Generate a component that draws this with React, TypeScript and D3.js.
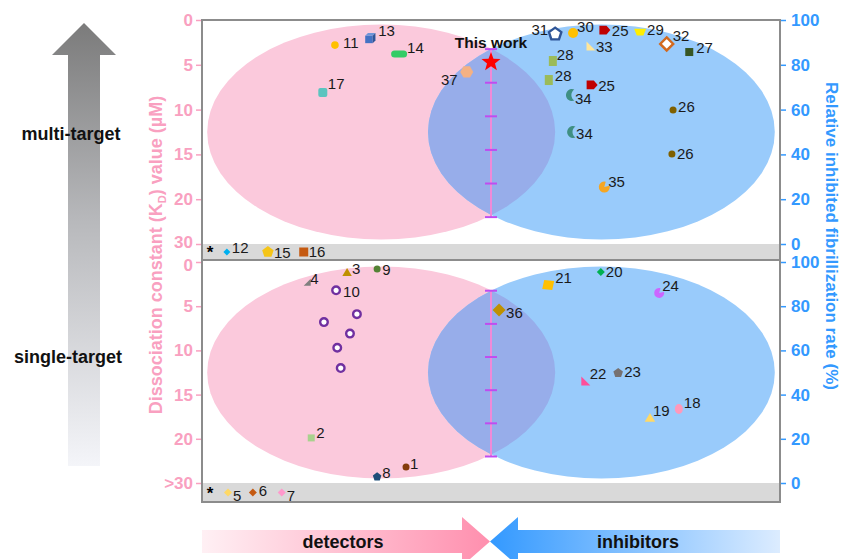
import React, { useRef, useEffect } from 'react';
import * as d3 from 'd3';

// pos = hidden horizontal position (0 = left frame, 100 = right frame)
// kd = dissociation constant (µM, left axis), rate = inhibited fibrillization (% , right axis)

// ---- multi-target panel ----
const multiDetectors = [
  { ref: '11', pos: 23.0, kd: 2.8 },
  { ref: '13', pos: 29.1, kd: 2.0 },
  { ref: '14', pos: 34.1, kd: 3.8 },
  { ref: '17', pos: 20.9, kd: 8.1 },
  { ref: '37', pos: 45.8, kd: 5.8 },
];
const multiDetectorsOver30 = [
  { ref: '12', pos: 4.3 },
  { ref: '15', pos: 11.4 },
  { ref: '16', pos: 17.6 },
];
const multiInhibitors = [
  { ref: '31', pos: 61.1, rate: 93.7 },
  { ref: '30', pos: 64.2, rate: 94.2 },
  { ref: '25', pos: 69.7, rate: 95.5 },
  { ref: '29', pos: 75.8, rate: 94.6 },
  { ref: '32', pos: 80.4, rate: 89.3 },
  { ref: '27', pos: 84.3, rate: 85.7 },
  { ref: '33', pos: 67.3, rate: 88.4 },
  { ref: '28', pos: 60.7, rate: 81.7 },
  { ref: '28', pos: 60.0, rate: 73.2 },
  { ref: '25', pos: 67.5, rate: 71.0 },
  { ref: '34', pos: 64.0, rate: 66.5 },
  { ref: '34', pos: 64.2, rate: 50.0 },
  { ref: '26', pos: 81.5, rate: 59.8 },
  { ref: '26', pos: 81.3, rate: 40.2 },
  { ref: '35', pos: 69.6, rate: 25.4 },
];
const thisWork = { pos: 50.0, kd: 4.7 };

// ---- single-target panel ----
const singleDetectors = [
  { ref: '4', pos: 18.2, kd: 2.3 },
  { ref: '3', pos: 25.1, kd: 1.2 },
  { ref: '9', pos: 30.3, kd: 0.8 },
  { ref: '10', pos: 23.2, kd: 3.2 },
  { ref: '10', pos: 26.8, kd: 5.9 },
  { ref: '10', pos: 21.1, kd: 6.8 },
  { ref: '10', pos: 25.6, kd: 8.1 },
  { ref: '10', pos: 23.4, kd: 9.7 },
  { ref: '10', pos: 24.0, kd: 12.0 },
  { ref: '2', pos: 18.9, kd: 19.9 },
  { ref: '1', pos: 35.3, kd: 26.4 },
  { ref: '8', pos: 30.3, kd: 28.6 },
];
const singleDetectorsOver30 = [
  { ref: '5', pos: 4.5 },
  { ref: '6', pos: 8.8 },
  { ref: '7', pos: 13.8 },
];
const singleInhibitors = [
  { ref: '36', pos: 51.4, rate: 78.3 },
  { ref: '21', pos: 59.9, rate: 89.6 },
  { ref: '20', pos: 69.0, rate: 95.5 },
  { ref: '24', pos: 79.1, rate: 86.0 },
  { ref: '22', pos: 66.4, rate: 46.2 },
  { ref: '23', pos: 72.0, rate: 49.8 },
  { ref: '19', pos: 77.5, rate: 29.4 },
  { ref: '18', pos: 82.5, rate: 33.5 },
];

// axes
const kdTicks = [0, 5, 10, 15, 20, 30];
const multiKdLabels = ['0', '5', '10', '15', '20', '30'];
const singleKdLabels = ['0', '5', '10', '15', '20', '>30'];
const rateTicks = [0, 20, 40, 60, 80, 100];

// shaded regions (pos / rate units) and the "this work" range bar (rate units)
const regions = [
  { name: 'detectors', cx: 31.0, rx: 30.1, cy: 50, ry: 48 },
  { name: 'inhibitors', cx: 69.1, rx: 30.0, cy: 50, ry: 48 },
];
const rangeBar = { pos: 50.0, from: 12, to: 87, marks: 6 };

// ---- styles ----
const markStyles = {
  '1': { shape: 'circle', color: '#843c0c', r: 3.5 },
  '2': { shape: 'square', color: '#a9d18e', r: 3.5 },
  '3': { shape: 'triangle', color: '#bf9000', r: 4.5 },
  '4': { shape: 'rtri', color: '#7f7f7f', r: 3.5 },
  '5': { shape: 'diamond', color: '#ffd966', r: 4 },
  '6': { shape: 'diamond', color: '#c55a11', r: 4 },
  '7': { shape: 'diamond', color: '#ff99cc', r: 4 },
  '8': { shape: 'pentagon', color: '#1f4e79', r: 4.5 },
  '9': { shape: 'circle', color: '#548235', r: 3.5 },
  '10': { shape: 'ring', color: '#7030a0', r: 3.8 },
  '11': { shape: 'circle', color: '#ffc000', r: 3.8 },
  '12': { shape: 'diamond', color: '#00b0f0', r: 3.5 },
  '13': { shape: 'cube', color: '#4472c4', r: 5 },
  '14': { shape: 'pill', color: '#33cc66', r: 5 },
  '15': { shape: 'pentagon', color: '#f5c518', r: 6 },
  '16': { shape: 'square', color: '#c55a11', r: 4.5 },
  '17': { shape: 'rsquare', color: '#5bc4bf', r: 4.5 },
  '18': { shape: 'oval', color: '#ff99bb', r: 5 },
  '19': { shape: 'triangle', color: '#ffd966', r: 5 },
  '20': { shape: 'diamond', color: '#00b050', r: 4 },
  '21': { shape: 'tsquare', color: '#ffc000', r: 5 },
  '22': { shape: 'ltri', color: '#ff4f9a', r: 4.5 },
  '23': { shape: 'pentagon', color: '#767171', r: 5 },
  '24': { shape: 'pacman', color: '#cc66ff', r: 5 },
  '25': { shape: 'house', color: '#c00000', r: 5.5 },
  '26': { shape: 'circle', color: '#7f6000', r: 3.5 },
  '27': { shape: 'square', color: '#375623', r: 4 },
  '28': { shape: 'tall', color: '#9bbb59', r: 5 },
  '29': { shape: 'trapezoid', color: '#ffee00', r: 6 },
  '30': { shape: 'circle', color: '#ffc000', r: 5 },
  '31': { shape: 'pentagonOutline', color: '#2f5597', r: 6.5 },
  '32': { shape: 'diamondOutline', color: '#d2691e', r: 6.5 },
  '33': { shape: 'ltri', color: '#ffe699', r: 4.5 },
  '34': { shape: 'crescent', color: '#3f8f82', r: 6 },
  '35': { shape: 'pacman', color: '#f5a623', r: 5.5 },
  '36': { shape: 'diamond', color: '#bf9000', r: 6.5 },
  '37': { shape: 'hexagon', color: '#f4b183', r: 6.5 },
};

// label offsets [dx, dy, anchor], same order as the data arrays
const multiDetectorLabels = [[8, -3], [8, -7], [8, -7], [5, -9], [-9, 8, 'end']];
const multiOver30Labels = [[5, -5], [6, 0], [5, -1]];
const multiInhibitorLabels = [
  [-7, -5, 'end'], [4, -6], [7, 0], [7, -3], [6, -8], [7, -5], [5, 1], [4, -6],
  [6, -5], [6, 1], [3, 3], [3, 1], [5, -4], [5, 0], [4, -6],
];
const singleDetectorLabels = [
  [3, -4], [5, -4], [5, 0], [7, 1], null, null, null, null, null, [5, -5], [4, -4], [5, -4],
];
const singleOver30Labels = [[5, 3], [6, -2], [5, 3]];
const singleInhibitorLabels = [[7, 3], [7, -7], [5, 0], [3, -7], [4, -7], [6, -1], [3, -8], [5, -6]];

const FONT = 'Arial, "Liberation Sans", sans-serif';
const PINK = '#f9a0c0';
const BLUE = '#3399ff';

function poly(n, r, start) {
  const pts = d3.range(n).map(i => {
    const a = start + (i * 2 * Math.PI) / n;
    return [r * Math.cos(a), r * Math.sin(a)];
  });
  return 'M' + pts.map(p => p.join(',')).join('L') + 'Z';
}

// returns list of [path, fill, stroke]
function markerParts(shape, r, color) {
  switch (shape) {
    case 'circle':
      return [[`M${r},0A${r},${r} 0 1 1 ${-r},0A${r},${r} 0 1 1 ${r},0Z`, color, null]];
    case 'ring':
      return [[`M${r},0A${r},${r} 0 1 1 ${-r},0A${r},${r} 0 1 1 ${r},0Z`, '#ffffff', color]];
    case 'oval':
      return [[`M${r * 0.8},0A${r * 0.8},${r} 0 1 1 ${-r * 0.8},0A${r * 0.8},${r} 0 1 1 ${r * 0.8},0Z`, color, null]];
    case 'square':
      return [[`M${-r},${-r}h${2 * r}v${2 * r}h${-2 * r}Z`, color, null]];
    case 'tall':
      return [[`M${-r * 0.8},${-r}h${1.6 * r}v${2 * r}h${-1.6 * r}Z`, color, null]];
    case 'rsquare':
      return [[`M${-r + 2},${-r}h${2 * r - 4}q2,0 2,2v${2 * r - 4}q0,2 -2,2h${-(2 * r - 4)}q-2,0 -2,-2v${-(2 * r - 4)}q0,-2 2,-2Z`, color, null]];
    case 'pill': {
      const h = r * 0.7;
      return [[`M${-r * 1.6 + h},${-h}h${3.2 * r - 2 * h}a${h},${h} 0 0 1 0,${2 * h}h${-(3.2 * r - 2 * h)}a${h},${h} 0 0 1 0,${-2 * h}Z`, color, null]];
    }
    case 'tsquare':
      return [[`M${-r + 1},${-r}L${r + 1},${-r + 1}L${r - 1},${r}L${-r - 1},${r - 1}Z`, color, null]];
    case 'diamond':
      return [[`M0,${-r}L${r},0L0,${r}L${-r},0Z`, color, null]];
    case 'diamondOutline':
      return [[`M0,${-r}L${r},0L0,${r}L${-r},0Z`, '#ffffff', color]];
    case 'triangle':
      return [[`M0,${-r}L${r * 1.05},${r * 0.75}L${-r * 1.05},${r * 0.75}Z`, color, null]];
    case 'ltri':
      return [[`M${-r},${-r}L${r},${r}L${-r},${r}Z`, color, null]];
    case 'rtri':
      return [[`M${r},${-r}L${r},${r}L${-r},${r}Z`, color, null]];
    case 'pentagon':
      return [[poly(5, r, -Math.PI / 2), color, null]];
    case 'pentagonOutline':
      return [[poly(5, r, -Math.PI / 2), '#ffffff', color]];
    case 'hexagon':
      return [[poly(6, r, 0), color, null]];
    case 'trapezoid':
      return [[`M${-r},${-r * 0.55}L${r},${-r * 0.55}L${r * 0.55},${r * 0.55}L${-r * 0.55},${r * 0.55}Z`, color, null]];
    case 'house':
      return [[`M${-r},${-r * 0.8}L${r * 0.3},${-r * 0.8}L${r},0L${r * 0.3},${r * 0.8}L${-r},${r * 0.8}Z`, color, null]];
    case 'pacman': {
      const a0 = -Math.PI / 12, a1 = -Math.PI * 5 / 12;
      return [[`M0,0L${r * Math.cos(a0)},${r * Math.sin(a0)}A${r},${r} 0 1 1 ${r * Math.cos(a1)},${r * Math.sin(a1)}Z`, color, null]];
    }
    case 'crescent': {
      const tx = r * 0.4, ty = -r * 0.92;
      return [[`M${tx},${ty}A${r},${r} 0 1 0 ${tx},${-ty}A${r * 1.1},${r * 1.1} 0 0 1 ${tx},${ty}Z`, color, null]];
    }
    case 'cube': {
      const s = r * 1.5, d = r * 0.55;
      const x0 = -r, y0 = -r + d;
      return [
        [`M${x0},${y0}h${s}v${s}h${-s}Z`, color, null],
        [`M${x0},${y0}l${d},${-d}h${s}l${-d},${d}Z`, '#6f95d8', null],
        [`M${x0 + s},${y0}l${d},${-d}v${s}l${-d},${d}Z`, '#2f5597', null],
      ];
    }
    case 'star': {
      const pts = d3.range(10).map(i => {
        const rr = i % 2 === 0 ? r : r * 0.42;
        const a = -Math.PI / 2 + (i * Math.PI) / 5;
        return [rr * Math.cos(a), rr * Math.sin(a)];
      });
      return [['M' + pts.map(p => p.join(',')).join('L') + 'Z', color, null]];
    }
    default:
      return [];
  }
}

export default function App() {
  const ref = useRef(null);

  useEffect(() => {
    const svg = d3.select(ref.current);
    svg.selectAll('*').remove();

    const width = 844;
    const height = 559;
    const left = 202;
    const right = 780;

    svg.attr('width', width).attr('height', height);
    svg.append('rect').attr('width', width).attr('height', height).attr('fill', '#ffffff');

    const defs = svg.append('defs');

    const x = d3.scaleLinear().domain([0, 100]).range([left, right]);

    const panels = [
      {
        key: 'multi', top: 20, dataBottom: 244, bottom: 260,
        kdLabels: multiKdLabels,
        detectors: multiDetectors, detectorLabels: multiDetectorLabels,
        over30: multiDetectorsOver30, over30Labels: multiOver30Labels,
        inhibitors: multiInhibitors, inhibitorLabels: multiInhibitorLabels,
      },
      {
        key: 'single', top: 262, dataBottom: 483, bottom: 502,
        kdLabels: singleKdLabels,
        detectors: singleDetectors, detectorLabels: singleDetectorLabels,
        over30: singleDetectorsOver30, over30Labels: singleOver30Labels,
        inhibitors: singleInhibitors, inhibitorLabels: singleInhibitorLabels,
      },
    ];

    const drawMark = (g, ref, cx, cy, label) => {
      const st = markStyles[ref];
      const m = g.append('g').attr('transform', `translate(${cx},${cy})`);
      markerParts(st.shape, st.r, st.color).forEach(([d, fill, stroke]) => {
        m.append('path')
          .attr('d', d)
          .attr('fill', fill)
          .attr('stroke', stroke || 'none')
          .attr('stroke-width', stroke ? 2.4 : 0);
      });
      if (label) {
        g.append('text')
          .attr('x', cx + label[0])
          .attr('y', cy + label[1])
          .attr('text-anchor', label[2] || 'start')
          .attr('dominant-baseline', 'central')
          .attr('font-family', FONT)
          .attr('font-size', 15)
          .attr('fill', '#1a1a1a')
          .text(ref);
      }
    };

    panels.forEach(p => {
      const step = (p.dataBottom - p.top) / (kdTicks.length - 1);
      const kd = d3.scaleLinear().domain(kdTicks).range(kdTicks.map((_, i) => p.top + i * step));
      const rate = d3.scaleLinear().domain([0, 100]).range([p.dataBottom, p.top]);
      const g = svg.append('g');

      // gray ">30" band
      g.append('rect')
        .attr('x', left).attr('y', p.dataBottom)
        .attr('width', right - left).attr('height', p.bottom - p.dataBottom)
        .attr('fill', '#d9d9d9');

      // regions
      const [det, inh] = regions;
      const clipId = `clip-${p.key}`;
      defs.append('clipPath').attr('id', clipId)
        .append('ellipse')
        .attr('cx', x(det.cx)).attr('cy', rate(det.cy))
        .attr('rx', x(det.cx + det.rx) - x(det.cx))
        .attr('ry', rate(det.cy) - rate(det.cy + det.ry));
      g.append('ellipse')
        .attr('cx', x(det.cx)).attr('cy', rate(det.cy))
        .attr('rx', x(det.cx + det.rx) - x(det.cx))
        .attr('ry', rate(det.cy) - rate(det.cy + det.ry))
        .attr('fill', '#fbc9dc');
      g.append('ellipse')
        .attr('cx', x(inh.cx)).attr('cy', rate(inh.cy))
        .attr('rx', x(inh.cx + inh.rx) - x(inh.cx))
        .attr('ry', rate(inh.cy) - rate(inh.cy + inh.ry))
        .attr('fill', '#99cbfb');
      g.append('ellipse')
        .attr('clip-path', `url(#${clipId})`)
        .attr('cx', x(inh.cx)).attr('cy', rate(inh.cy))
        .attr('rx', x(inh.cx + inh.rx) - x(inh.cx))
        .attr('ry', rate(inh.cy) - rate(inh.cy + inh.ry))
        .attr('fill', '#97adea');

      // this-work range bar
      const bx = x(rangeBar.pos);
      g.append('line')
        .attr('x1', bx).attr('x2', bx)
        .attr('y1', rate(rangeBar.to)).attr('y2', rate(rangeBar.from))
        .attr('stroke', '#f08ad8').attr('stroke-width', 2);
      const markVals = d3.range(rangeBar.marks).map(i =>
        rangeBar.from + (i * (rangeBar.to - rangeBar.from)) / (rangeBar.marks - 1));
      g.selectAll('line.mark')
        .data(markVals)
        .join('line')
        .attr('class', 'mark')
        .attr('x1', bx - 6).attr('x2', bx + 6)
        .attr('y1', d => rate(d)).attr('y2', d => rate(d))
        .attr('stroke', '#c04cf0').attr('stroke-width', 2);

      // axes
      const la = g.append('g')
        .attr('transform', `translate(${left},0)`)
        .call(d3.axisLeft(kd).tickValues(kdTicks).tickFormat((d, i) => p.kdLabels[i]).tickSize(6).tickPadding(3));
      la.select('.domain').remove();
      la.selectAll('line').attr('stroke', PINK).attr('stroke-width', 1.5);
      la.selectAll('text').attr('fill', PINK).attr('font-family', FONT).attr('font-size', 17).attr('font-weight', 'bold');
      if (p.key === 'single') la.selectAll('text').filter((d, i) => i === 0).attr('dy', '0.5em');
      if (p.key === 'multi') la.selectAll('text').filter((d, i) => i === kdTicks.length - 1).attr('dy', '0.2em');

      const ra = g.append('g')
        .attr('transform', `translate(${right},0)`)
        .call(d3.axisRight(rate).tickValues(rateTicks).tickSize(6).tickPadding(5));
      ra.select('.domain').remove();
      ra.selectAll('line').attr('stroke', BLUE).attr('stroke-width', 1.5);
      ra.selectAll('text').attr('fill', BLUE).attr('font-family', FONT).attr('font-size', 17).attr('font-weight', 'bold');

      // points
      p.detectors.forEach((d, i) => drawMark(g, d.ref, x(d.pos), kd(d.kd), p.detectorLabels[i]));
      p.inhibitors.forEach((d, i) => drawMark(g, d.ref, x(d.pos), rate(d.rate), p.inhibitorLabels[i]));
      const bandY = (p.dataBottom + p.bottom) / 2;
      g.append('text')
        .attr('x', left + 8).attr('y', bandY + 6)
        .attr('text-anchor', 'middle')
        .attr('font-family', FONT).attr('font-size', 17).attr('font-weight', 'bold')
        .text('*');
      p.over30.forEach((d, i) => drawMark(g, d.ref, x(d.pos), bandY, p.over30Labels[i]));

      if (p.key === 'multi') {
        const sx = x(thisWork.pos);
        const sy = kd(thisWork.kd);
        const s = g.append('g').attr('transform', `translate(${sx},${sy})`);
        markerParts('star', 10, '#ff0000').forEach(([d, fill]) => s.append('path').attr('d', d).attr('fill', fill));
        g.append('text')
          .attr('x', sx).attr('y', sy - 14)
          .attr('text-anchor', 'middle')
          .attr('font-family', FONT).attr('font-size', 15.5).attr('font-weight', 'bold')
          .attr('fill', '#111')
          .text('This work');
      }
    });

    // frame
    svg.append('rect')
      .attr('x', left).attr('y', 20)
      .attr('width', right - left).attr('height', 502 - 20)
      .attr('fill', 'none').attr('stroke', '#8c8c8c').attr('stroke-width', 2);
    svg.append('line')
      .attr('x1', left).attr('x2', right).attr('y1', 260).attr('y2', 260)
      .attr('stroke', '#8c8c8c').attr('stroke-width', 2);

    // axis titles
    const lt = svg.append('text')
      .attr('transform', 'translate(162,255) rotate(-90)')
      .attr('text-anchor', 'middle')
      .attr('font-family', FONT).attr('font-size', 18).attr('font-weight', 'bold')
      .attr('fill', PINK);
    lt.append('tspan').text('Dissociation constant (K');
    lt.append('tspan').attr('font-size', 11).attr('dy', 4).text('D');
    lt.append('tspan').attr('dy', -4).text(') value (µM)');

    svg.append('text')
      .attr('transform', 'translate(826,236) rotate(90)')
      .attr('text-anchor', 'middle')
      .attr('font-family', FONT).attr('font-size', 17).attr('font-weight', 'bold')
      .attr('fill', BLUE)
      .text('Relative inhibited fibrillization rate (%)');

    // vertical gradient arrow
    const vg = defs.append('linearGradient').attr('id', 'vgrad')
      .attr('x1', 0).attr('x2', 0).attr('y1', 0).attr('y2', 1);
    vg.append('stop').attr('offset', '0%').attr('stop-color', '#7b7b7b');
    vg.append('stop').attr('offset', '45%').attr('stop-color', '#b8b9bc');
    vg.append('stop').attr('offset', '100%').attr('stop-color', '#f4f5f9');
    svg.append('path')
      .attr('d', 'M84,23L116,55L100,55L100,466L68,466L68,55L52,55Z')
      .attr('fill', 'url(#vgrad)');
    svg.append('text')
      .attr('x', 71).attr('y', 134).attr('text-anchor', 'middle').attr('dominant-baseline', 'central')
      .attr('font-family', FONT).attr('font-size', 18).attr('font-weight', 'bold').attr('fill', '#111')
      .text('multi-target');
    svg.append('text')
      .attr('x', 68).attr('y', 357).attr('text-anchor', 'middle').attr('dominant-baseline', 'central')
      .attr('font-family', FONT).attr('font-size', 18).attr('font-weight', 'bold').attr('fill', '#111')
      .text('single-target');

    // bottom arrows
    const pg = defs.append('linearGradient').attr('id', 'pgrad');
    pg.append('stop').attr('offset', '0%').attr('stop-color', '#fff0f4');
    pg.append('stop').attr('offset', '100%').attr('stop-color', '#ff8fae');
    svg.append('path')
      .attr('d', 'M202,530L462,530L462,517L490,541.5L462,566L462,553L202,553Z')
      .attr('fill', 'url(#pgrad)');
    const bg = defs.append('linearGradient').attr('id', 'bgrad');
    bg.append('stop').attr('offset', '0%').attr('stop-color', '#3399ff');
    bg.append('stop').attr('offset', '100%').attr('stop-color', '#dcecff');
    svg.append('path')
      .attr('d', 'M490,541.5L518,517L518,530L780,530L780,553L518,553L518,566Z')
      .attr('fill', 'url(#bgrad)');
    svg.append('text')
      .attr('x', 343).attr('y', 542).attr('text-anchor', 'middle').attr('dominant-baseline', 'central')
      .attr('font-family', FONT).attr('font-size', 18).attr('font-weight', 'bold').attr('fill', '#111')
      .text('detectors');
    svg.append('text')
      .attr('x', 638).attr('y', 542).attr('text-anchor', 'middle').attr('dominant-baseline', 'central')
      .attr('font-family', FONT).attr('font-size', 18).attr('font-weight', 'bold').attr('fill', '#111')
      .text('inhibitors');
  }, []);

  return <svg ref={ref} style={{ position: 'absolute', left: 0, top: 0, display: 'block' }} />;
}
